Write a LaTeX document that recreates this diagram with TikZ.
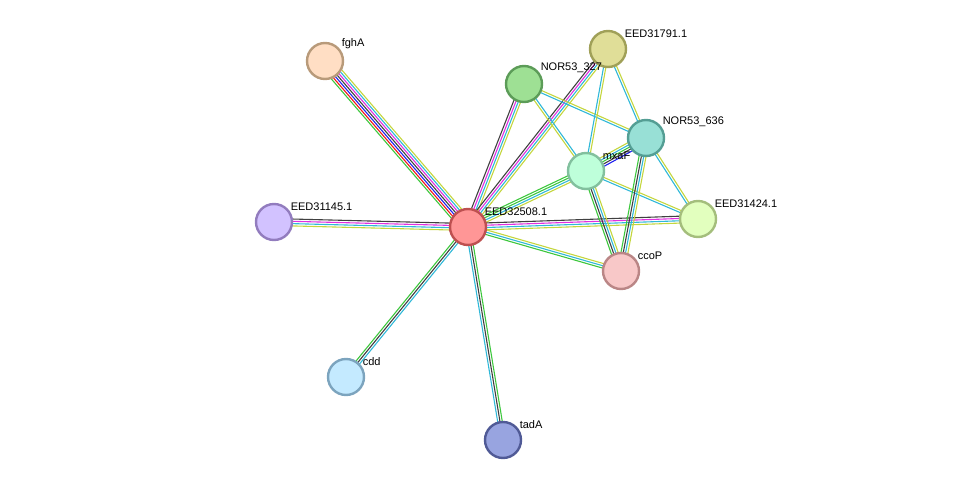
\documentclass[tikz,border=0pt]{standalone}
\usepackage{fontspec}
\setmainfont{Liberation Sans}
\usetikzlibrary{calc,backgrounds}
\definecolor{nbh}{HTML}{3DC73D}
\definecolor{fus}{HTML}{F01818}
\definecolor{coo}{HTML}{2020F0}
\definecolor{cox}{HTML}{404040}
\definecolor{exp}{HTML}{E030E0}
\definecolor{dbs}{HTML}{30B8D8}
\definecolor{txt}{HTML}{C4D63E}
\tikzset{
  prot/.style={shape=circle,minimum size=36pt,inner sep=0pt,line width=2.4pt},
  lbl/.style={anchor=south west,inner sep=0pt,xshift=3pt,yshift=-2pt,font=\fontsize{11}{13}\selectfont},
  ev/.style={line width=1.1pt}
}
\newcommand\sedge[3]{%
  \foreach \c [count=\i] in {#3}{\xdef\nlines{\i}}%
  \foreach \c [count=\i] in {#3}{%
    \pgfmathsetmacro\off{(\i-(\nlines+1)/2)*2.3}%
    \draw[ev,\c] ($(#1)!\off pt!90:(#2)$) -- ($(#2)!\off pt!-90:(#1)$);}}
\begin{document}
\begin{tikzpicture}[x=1pt,y=-1pt]
	\useasboundingbox (0,0) rectangle (976,486);
	\node[prot,draw={rgb,255:red,184;green,154;blue,122},fill={rgb,255:red,255;green,222;blue,196},label={[lbl]45:fghA}] (fghA) at (325,61) {};
	\node[prot,draw={rgb,255:red,160;green,160;blue,88},fill={rgb,255:red,224;green,222;blue,152},label={[lbl]45:EED31791.1}] (E791) at (608,49) {};
	\node[prot,draw={rgb,255:red,92;green,156;blue,88},fill={rgb,255:red,158;green,224;blue,148},label={[lbl]45:NOR53\_327}] (N327) at (524,84) {};
	\node[prot,draw={rgb,255:red,84;green,158;blue,148},fill={rgb,255:red,152;green,224;blue,214},label={[lbl]45:NOR53\_636}] (N636) at (646,138) {};
	\node[prot,draw={rgb,255:red,130;green,192;blue,158},fill={rgb,255:red,190;green,255;blue,218},label={[lbl]45:mxaF}] (mxaF) at (586,171) {};
	\node[prot,draw={rgb,255:red,164;green,190;blue,124},fill={rgb,255:red,226;green,255;blue,190},label={[lbl]45:EED31424.1}] (E424) at (698,219) {};
	\node[prot,draw={rgb,255:red,190;green,80;blue,80},fill={rgb,255:red,255;green,150;blue,150},label={[lbl]45:EED32508.1}] (E508) at (468,227) {};
	\node[prot,draw={rgb,255:red,146;green,124;blue,190},fill={rgb,255:red,210;green,194;blue,255},label={[lbl]45:EED31145.1}] (E145) at (274,222) {};
	\node[prot,draw={rgb,255:red,186;green,134;blue,134},fill={rgb,255:red,248;green,200;blue,200},label={[lbl]45:ccoP}] (ccoP) at (621,271) {};
	\node[prot,draw={rgb,255:red,124;green,164;blue,190},fill={rgb,255:red,196;green,234;blue,255},label={[lbl]45:cdd}] (cdd) at (346,377) {};
	\node[prot,draw={rgb,255:red,80;green,90;blue,150},fill={rgb,255:red,152;green,164;blue,224},label={[lbl]45:tadA}] (tadA) at (503,440) {};
	\begin{scope}[on background layer]
	\sedge{fghA}{E508}{nbh,fus,coo,cox,exp,dbs,txt}
	\sedge{E145}{E508}{txt,dbs,exp,cox}
	\sedge{N327}{E508}{cox,exp,dbs,txt}
	\sedge{E791}{E508}{cox,exp,dbs,txt}
	\sedge{mxaF}{E508}{nbh,nbh,dbs,txt}
	\sedge{E424}{E508}{cox,exp,dbs,txt}
	\sedge{ccoP}{E508}{txt,dbs,nbh}
	\sedge{cdd}{E508}{dbs,cox,nbh}
	\sedge{tadA}{E508}{nbh,cox,dbs}
	\sedge{N327}{mxaF}{txt,dbs}
	\sedge{N327}{N636}{dbs,txt}
	\sedge{E791}{mxaF}{dbs,txt}
	\sedge{E791}{N636}{dbs,txt}
	\sedge{mxaF}{N636}{coo,cox,nbh,dbs,txt}
	\sedge{mxaF}{E424}{dbs,txt}
	\sedge{mxaF}{ccoP}{nbh,cox,dbs,txt}
	\sedge{N636}{E424}{dbs,txt}
	\sedge{N636}{ccoP}{nbh,cox,dbs,txt}
	\end{scope}
\end{tikzpicture}
\end{document}
